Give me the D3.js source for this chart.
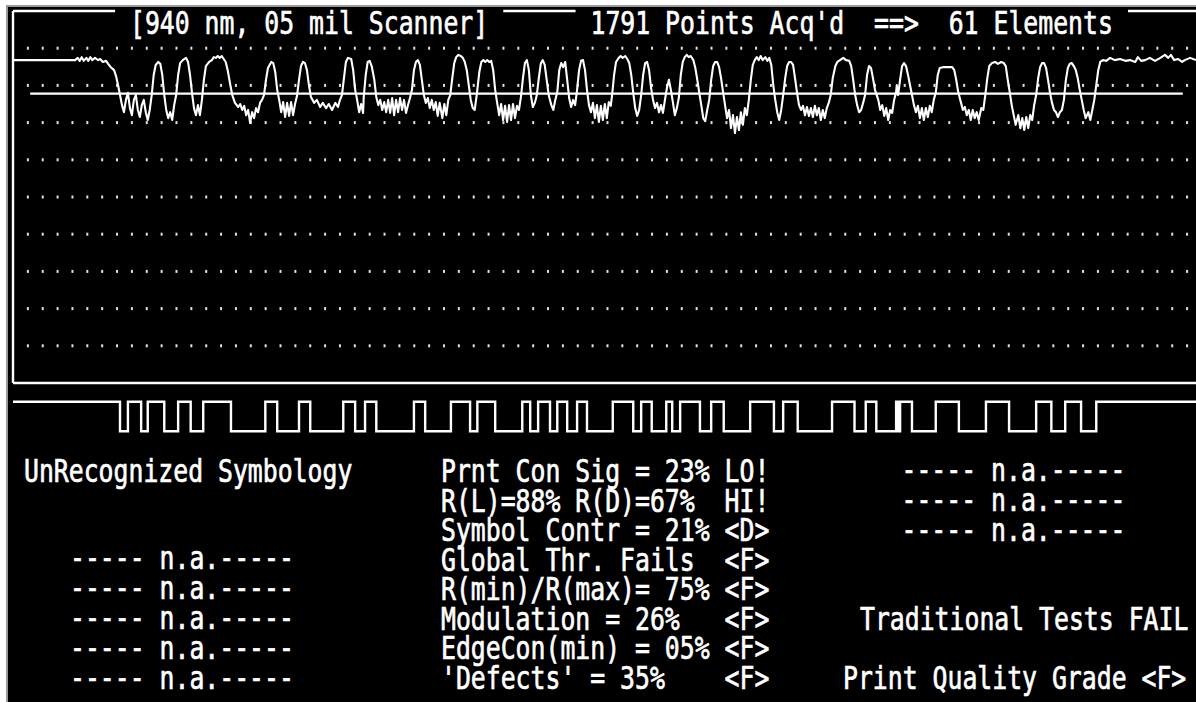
<!DOCTYPE html>
<html><head><meta charset="utf-8">
<script src="https://cdn.jsdelivr.net/npm/d3@7/dist/d3.min.js"></script>
<style>
html,body{margin:0;padding:0;background:#fff;overflow:hidden;}
svg{display:block;}
text{font-family:"DejaVu Sans Mono",monospace;font-size:24.8px;fill:#fff;stroke:#fff;stroke-width:0.55px;white-space:pre;}
</style></head><body>
<svg id="c" width="1196" height="702"></svg>
<script>
// ---------------- DATA ----------------
const totalPoints = 1791;
const titleLeft = "[940 nm, 05 mil Scanner]";
const titleRight = "1791 Points Acq'd  ==>  61 Elements";

// analog scan trace: [point index, reflectance %]
const scanTrace = [
[0,86.8],[94,86.8],[98,87.4],[101,86.6],[104,87.6],[107,86.6],[111,87.4],[114,86.6],[117,87.6],[120,86.8],[124,87.4],[129,86.8],[132,87.1],[136,86.3],[141,86.6],[144,85.8],[148,84.9],[153,84.1],[156,82.5],[159,80.1],[162,77.4],[165,74.7],[168,72.8],[171,76.1],[174,78.0],[177,73.9],[180,72.0],[183,76.1],[186,77.4],[189,73.4],[192,71.5],[195,74.7],[198,76.1],[201,72.8],[204,70.7],[207,73.4],
[210,77.4],[213,82.8],[216,85.5],[220,86.3],[223,85.8],[226,82.8],[229,77.4],[232,73.4],
[235,71.2],[238,72.8],[241,70.7],[244,74.7],[247,77.4],
[250,82.8],[253,86.0],[257,86.8],[262,87.4],[265,86.3],[268,82.8],[271,78.0],[274,73.9],
[277,72.0],[280,74.7],[283,72.0],[286,76.1],
[289,81.5],[292,85.2],[297,86.3],[301,86.8],[304,87.6],[307,87.4],[310,87.9],[313,87.4],[316,87.9],[319,87.1],[322,86.3],[325,84.1],[329,80.1],[332,77.4],
[336,75.3],[341,74.2],[344,75.0],[347,73.4],[350,74.5],[353,72.0],[356,73.4],[359,69.9],[362,72.8],[365,71.2],[368,73.9],[371,72.8],[374,75.3],[377,76.1],[380,77.4],
[383,81.5],[386,84.7],[391,86.3],[394,86.0],[397,83.6],[400,78.8],[403,76.1],
[406,72.8],[409,75.5],[412,71.5],[415,75.3],[418,71.8],[421,75.5],[424,72.0],[427,75.0],[430,77.2],
[433,81.5],[436,85.2],[439,86.3],[442,86.0],[445,84.1],[448,80.1],[451,76.9],
[456,75.3],[460,76.1],[465,74.2],[469,75.3],[474,73.9],[478,75.0],[483,73.4],[488,75.3],[492,74.2],[495,76.1],[498,77.4],
[501,81.9],[504,86.3],[507,87.4],[512,87.1],[515,84.1],[518,78.8],[521,76.1],
[524,72.8],[527,75.0],[530,72.6],[531,76.9],
[534,82.8],[537,86.3],[540,86.6],[543,85.2],[547,81.5],[550,76.9],
[553,74.7],[556,76.1],[559,73.4],[562,75.5],[565,72.8],[568,76.1],[571,72.6],[574,76.6],[577,72.0],[580,76.1],[583,72.8],[586,76.6],[589,73.4],[592,76.1],[595,72.6],[598,74.7],[601,76.6],[604,78.8],
[607,84.1],[610,86.3],[613,86.8],[616,85.5],[619,81.5],[622,77.4],[625,75.3],
[628,76.6],[631,73.9],[634,76.1],[637,73.4],[640,75.5],[643,71.8],[646,75.3],[650,71.2],[653,75.0],[656,72.0],[659,76.1],[662,77.4],
[665,81.9],[668,86.0],[671,87.6],[674,88.2],[678,87.9],[681,87.4],[684,86.3],[687,84.1],[690,80.1],[693,76.1],
[696,73.9],[699,73.4],[702,77.4],
[706,83.6],[709,86.3],[712,86.8],[715,86.3],[718,86.8],[721,86.3],[724,86.6],[727,84.1],[730,78.8],
[733,75.3],[736,72.0],[739,75.0],[742,70.7],[745,74.5],[748,70.2],[751,74.7],[754,70.7],[757,75.0],[760,71.2],[763,74.5],[766,73.4],[769,76.9],
[772,81.9],[775,86.0],[778,86.8],[781,84.1],[784,77.4],
[787,74.2],[790,75.3],[793,77.4],
[796,81.9],[799,85.8],[802,86.8],[805,85.5],[808,81.5],[811,77.4],
[815,74.7],[818,73.4],[821,76.1],[824,78.2],
[827,84.1],[830,86.0],[833,84.9],[836,86.3],[839,81.5],[842,76.6],
[845,74.2],[848,76.1],[851,74.7],[854,78.8],
[857,84.1],[860,86.6],[863,86.8],[866,84.1],[869,78.8],
[872,74.7],[875,72.8],[878,75.3],[881,71.2],[884,74.7],[887,70.2],[890,74.5],[893,70.7],[896,75.0],[899,71.2],[902,75.5],[905,74.5],[907,77.4],
[910,82.8],[913,86.3],[917,87.4],[920,87.9],[923,87.4],[927,87.9],[930,87.1],[933,86.0],[936,82.8],[939,78.0],
[942,73.9],[945,71.8],[948,73.4],[951,77.4],
[954,82.8],[957,86.0],[960,86.3],[963,84.1],[966,79.3],
[969,76.1],[972,73.9],[975,75.3],[978,72.8],[981,74.7],[984,72.6],[987,76.1],
[990,79.3],[993,81.5],[996,78.8],
[999,75.5],[1002,72.0],[1005,73.9],[1008,76.6],
[1011,82.8],[1014,86.3],[1017,87.6],[1020,88.2],[1023,87.6],[1026,87.9],[1030,86.8],[1033,84.7],[1036,81.5],[1039,78.0],
[1042,74.7],[1045,71.2],[1048,70.4],[1051,73.4],[1054,76.1],
[1057,81.5],[1060,85.2],[1063,86.3],[1066,86.3],[1069,84.9],[1072,81.9],[1075,78.2],
[1078,74.7],[1081,71.2],[1084,73.4],[1087,68.5],[1090,72.0],[1093,67.2],[1096,71.5],[1099,68.0],[1102,72.8],[1105,69.4],[1108,73.9],[1111,72.0],[1114,76.1],
[1117,81.5],[1120,85.5],[1123,86.8],[1126,87.6],[1129,86.8],[1132,87.9],[1135,86.8],[1139,87.6],[1142,86.6],[1145,87.4],[1148,85.5],[1151,80.1],
[1154,76.1],[1157,72.8],[1160,70.7],[1163,73.4],[1166,77.4],
[1169,81.9],[1172,85.2],[1175,86.3],[1178,86.3],[1181,85.5],[1184,81.9],[1187,78.0],
[1190,74.7],[1193,73.4],[1196,74.5],[1199,72.0],[1202,74.2],[1205,71.8],[1208,73.9],[1211,71.5],[1214,74.5],[1217,72.0],[1220,73.9],[1223,70.7],[1226,73.4],[1229,71.2],[1232,73.9],[1235,75.3],[1238,77.4],
[1241,81.9],[1245,85.2],[1248,86.3],[1252,86.8],[1257,87.4],[1261,86.8],[1266,86.6],[1269,85.2],[1272,81.5],[1275,77.4],
[1278,74.7],[1281,72.8],[1284,73.4],[1287,75.3],[1290,77.4],
[1293,82.8],[1296,85.2],[1299,84.7],[1302,81.9],[1305,78.8],
[1310,76.1],[1313,73.4],[1316,74.7],[1319,71.8],[1322,73.9],[1325,70.7],[1328,73.4],[1331,72.6],[1334,76.1],[1337,78.2],
[1338,80.1],[1340,77.4],[1343,81.5],[1346,85.2],[1349,86.0],[1352,85.2],[1355,82.8],[1358,80.1],[1361,77.4],
[1364,74.7],[1367,72.8],[1370,74.5],[1373,71.2],[1376,73.9],[1379,70.7],[1382,73.9],[1385,71.5],[1388,74.5],[1391,72.8],[1394,76.1],[1397,78.0],
[1400,82.8],[1403,84.7],[1408,84.9],[1413,84.9],[1417,84.9],[1422,84.9],[1425,84.1],[1428,81.5],[1431,78.2],
[1435,75.5],[1438,73.4],[1441,74.2],[1444,72.0],[1447,73.4],[1450,70.7],[1453,73.4],[1456,71.2],[1459,72.8],[1462,70.7],[1466,73.9],[1469,73.4],[1472,77.4],
[1475,81.9],[1478,85.2],[1482,86.0],[1487,86.3],[1491,85.8],[1496,86.3],[1500,86.0],[1503,85.2],[1506,81.5],[1509,78.2],
[1512,74.7],[1515,72.0],[1518,69.4],[1522,72.0],[1525,68.5],[1528,71.2],[1531,68.0],[1534,71.5],[1537,68.5],[1540,72.0],[1543,70.7],[1546,74.7],[1549,77.4],
[1552,81.9],[1555,84.9],[1558,86.0],[1561,86.0],[1564,84.7],[1567,81.5],[1570,78.0],
[1573,75.3],[1576,73.4],[1579,72.8],[1582,71.5],[1585,72.8],[1588,73.4],[1591,76.1],
[1594,81.5],[1597,84.7],[1600,85.8],[1603,86.0],[1606,85.2],[1609,84.1],[1612,81.9],[1615,78.8],
[1618,76.1],[1621,73.4],[1624,71.2],[1628,72.8],[1631,70.7],[1634,73.4],[1637,76.1],
[1640,80.1],[1643,84.1],[1646,86.3],[1650,86.8],[1655,86.6],[1661,87.4],[1668,86.8],[1676,87.1],[1684,86.6],[1691,86.8],[1699,86.3],[1703,87.6],[1708,86.6],[1714,86.8],[1721,87.4],[1729,86.6],[1737,87.4],[1744,88.2],[1749,87.4],[1753,88.2],[1758,86.8],[1764,87.1],[1770,86.3],[1774,86.8],[1782,87.4],[1791,86.8]
];

// digitized element edges (point index), 62 edges -> 61 elements
const barEdges = [162,174,194,204,229,250,269,288,330,382,400,433,450,500,518,533,550,607,624,663,692,703,730,771,783,795,813,824,839,854,869,908,939,951,967,989,998,1010,1040,1057,1076,1116,1152,1166,1188,1240,1274,1291,1307,1337,1340,1343,1361,1397,1432,1473,1508,1549,1572,1593,1617,1640];

const gridLevels = [10,20,30,40,50,60,70,80,90];
const gridStepPoints = 22.5;
const gridColumns = 79;
const thresholdLevel = 77.8;
const thresholdSpan = [26, 1771];

const symbologyLabel = "UnRecognized Symbology";
const decodeRowsLeft = ["----- n.a.-----","----- n.a.-----","----- n.a.-----","----- n.a.-----","----- n.a.-----"];
const decodeRowsRight = ["----- n.a.-----","----- n.a.-----","----- n.a.-----"];
const qualityLines = [
"Prnt Con Sig = 23% LO!",
"R(L)=88% R(D)=67%  HI!",
"Symbol Contr = 21% <D>",
"Global Thr. Fails  <F>",
"R(min)/R(max)= 75% <F>",
"Modulation = 26%   <F>",
"EdgeCon(min) = 05% <F>",
"'Defects' = 35%    <F>"
];
const verdictLines = ["Traditional Tests FAIL", "Print Quality Grade <F>"];

// ---------------- DRAW ----------------
const W = 1196, H = 702, CW = 14.93, VS = 1.3;
const svg = d3.select("#c");
const x = d3.scaleLinear().domain([0, totalPoints]).range([13, 1196]);
const y = d3.scaleLinear().domain([0, 100]).range([383, 11]);
const yd = d3.scaleLinear().domain([0, 1]).range([431.3, 401.7]);

// screen
svg.append("rect").attr("x",6).attr("y",5).attr("width",W).attr("height",H).attr("fill","#9a9a9a");
svg.append("rect").attr("x",8).attr("y",7).attr("width",W).attr("height",H).attr("fill","#000");

// dotted grid
const dots = [];
gridLevels.forEach(l => d3.range(1, gridColumns + 1).forEach(k => dots.push([k * gridStepPoints, l])));
svg.append("g").selectAll("rect").data(dots).join("rect")
  .attr("x", d => x(d[0]) - 1).attr("y", d => y(d[1]) - 1.5)
  .attr("width", 2).attr("height", 3).attr("fill", "#e0e0e0");

// frame
const frame = svg.append("g").attr("stroke","#fff").attr("stroke-width",2.4).attr("fill","none");
frame.append("line").attr("x1", x(0)).attr("x2", W).attr("y1", y(100)).attr("y2", y(100));
frame.append("line").attr("x1", x(0)).attr("x2", x(0)).attr("y1", y(100)).attr("y2", y(0));
frame.append("line").attr("x1", x(0)).attr("x2", W).attr("y1", y(0)).attr("y2", y(0));

// threshold
svg.append("line").attr("x1", x(thresholdSpan[0])).attr("x2", x(thresholdSpan[1]))
  .attr("y1", y(thresholdLevel)).attr("y2", y(thresholdLevel))
  .attr("stroke","#fff").attr("stroke-width",2.4);

// analog trace
svg.append("path").datum(scanTrace)
  .attr("d", d3.line().x(d => x(d[0])).y(d => y(d[1])))
  .attr("fill","none").attr("stroke","#fff").attr("stroke-width",2.1).attr("stroke-linejoin","round");

// digitized bar pattern
const dig = [[0,1]];
barEdges.forEach((e,i) => dig.push([e, i % 2 === 0 ? 0 : 1]));
dig.push([totalPoints, 1]);
svg.append("path").datum(dig)
  .attr("d", d3.line().curve(d3.curveStepAfter).x(d => x(d[0])).y(d => yd(d[1])))
  .attr("fill","none").attr("stroke","#fff").attr("stroke-width",2.4);

// text helper: monospace cell 14.93 px wide, glyphs stretched vertically like the VGA font
function label(str, tx, ty) {
  return svg.append("text").attr("transform", `translate(${tx},${ty}) scale(1,${VS})`).text(str);
}
// titles with black gaps in the frame line
[[titleLeft, 130], [titleRight, 590.5]].forEach(([s, tx]) => {
  svg.append("rect").attr("x", tx - CW).attr("y", 8).attr("width", (s.length + 2) * CW).attr("height", 30).attr("fill","#000");
  label(s, tx, 34);
});

label(symbologyLabel, 24, 482);
const leftBase = [569, 599, 629, 659, 688.5];
decodeRowsLeft.forEach((s,i) => label(s, 70, leftBase[i]));
const rightBase = [481, 511, 541];
decodeRowsRight.forEach((s,i) => label(s, 901.5, rightBase[i]));
qualityLines.forEach((s,i) => label(s, 441, 482 + i * 29.5));
label(verdictLines[0], 860, 629.5);
label(verdictLines[1], 843, 688.5);
</script>
</body></html>
